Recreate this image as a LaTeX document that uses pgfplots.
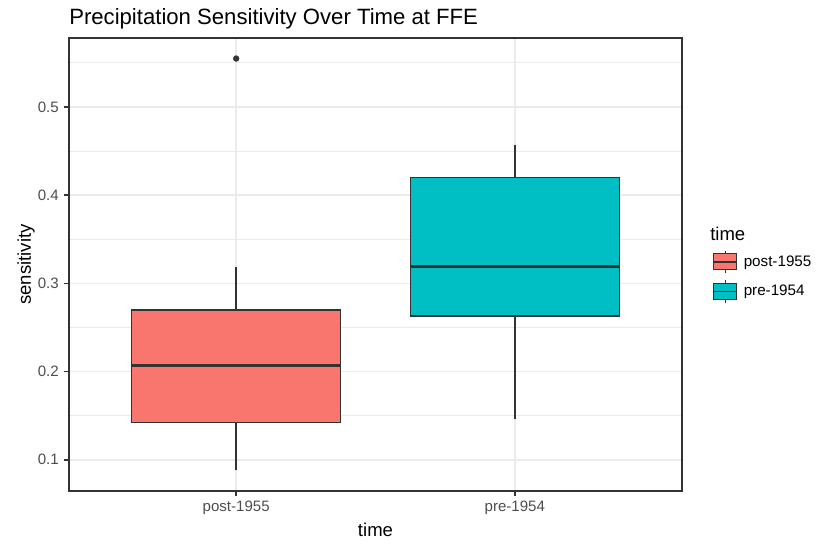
\documentclass[border=0pt]{standalone}
\usepackage{fontspec}
\setmainfont{Liberation Sans}
\usepackage{pgfplots}
\pgfplotsset{compat=1.18}
\definecolor{cA}{HTML}{F8766D}
\definecolor{cB}{HTML}{00BFC4}
\definecolor{gA}{HTML}{333333}
\definecolor{gB}{HTML}{4D4D4D}
\definecolor{gC}{HTML}{EBEBEB}
\begin{document}
\begin{tikzpicture}
\path[use as bounding box] (0,0) rectangle (612pt,407.25pt);
\begin{axis}[
  at={(51.75pt,39pt)}, anchor=south west,
  scale only axis, width=459.75pt, height=339.75pt,
  xmin=0.4, xmax=2.6, ymin=0.0646, ymax=0.5781,
  clip=false,
  xtick={1,2}, xticklabels={post-1955,pre-1954},
  ytick={0.1,0.2,0.3,0.4,0.5}, yticklabels={0.1,0.2,0.3,0.4,0.5},
  minor ytick={0.15,0.25,0.35,0.45,0.55},
  grid=both,
  major grid style={draw=gC, line width=1.2pt},
  minor grid style={draw=gC, line width=0.6pt},
  tick align=outside, tick pos=left,
  major tick length=4pt, minor tick length=0pt,
  tick style={draw=gA, line width=1.1pt},
  axis line style={draw=gA, line width=1.1pt},
  ticklabel style={font=\fontsize{11.3}{13}\selectfont, text=gB},
  xticklabel style={anchor=north, inner sep=0pt, yshift=-3pt},
  yticklabel style={anchor=east, inner sep=0pt, xshift=-3.5pt},
  xlabel={time}, ylabel={sensitivity},
  every axis x label/.style={at={(axis description cs:0.5,0)}, anchor=base, inner sep=0pt, yshift=-33.75pt, font=\fontsize{13.9}{16}\selectfont},
  every axis y label/.style={at={(axis description cs:-0.062,0.5)}, anchor=base, rotate=90, inner sep=0pt, font=\fontsize{13.9}{16}\selectfont},
  title={Precipitation Sensitivity Over Time at FFE},
  every axis title/.style={at={(axis description cs:0,1.0297)}, anchor=base west, inner sep=0pt, font=\fontsize{16.6}{19}\selectfont},
  legend style={at={(rel axis cs:1.0506,0.532)}, anchor=north west, draw=none, fill=none, inner sep=0pt, outer sep=0pt, row sep=-0.65pt, column sep=0pt, nodes={inner sep=0pt}, font=\fontsize{11.4}{13}\selectfont},
  legend cell align=left,
]
% post-1955: whiskers, box, median, outlier
\addplot[forget plot, gA, line width=1.1pt] coordinates {(1,0.0879) (1,0.1422)};
\addplot[forget plot, gA, line width=1.1pt] coordinates {(1,0.2698) (1,0.3189)};
\addplot[forget plot, fill=cA, draw=gA, line width=1.2pt, line join=miter] coordinates {(0.625,0.1422) (1.375,0.1422) (1.375,0.2698) (0.625,0.2698)} -- cycle;
\addplot[forget plot, gA, line width=2.2pt] coordinates {(0.625,0.2072) (1.375,0.2072)};
\addplot[forget plot, only marks, mark=*, mark size=2.2pt, mark options={solid, fill=gA, draw=gA, line width=0.3pt}] coordinates {(1,0.5548)};
% pre-1954
\addplot[forget plot, gA, line width=1.1pt] coordinates {(2,0.1460) (2,0.2630)};
\addplot[forget plot, gA, line width=1.1pt] coordinates {(2,0.4200) (2,0.4566)};
\addplot[forget plot, fill=cB, draw=gA, line width=1.2pt, line join=miter] coordinates {(1.625,0.2630) (2.375,0.2630) (2.375,0.4200) (1.625,0.4200)} -- cycle;
\addplot[forget plot, gA, line width=2.2pt] coordinates {(1.625,0.3196) (2.375,0.3196)};
\addlegendimage{legend image code/.code={
  \draw[gA, line width=0.8pt] (8.5pt,-8.5pt) -- (8.5pt,8.5pt);
  \draw[fill=cA, draw=gA, line width=0.9pt] (0pt,-6pt) rectangle (17pt,6pt);
  \draw[gA, line width=1.1pt] (0pt,0pt) -- (17pt,0pt);
  \path (22.3pt,-13.9pt);
}}
\addlegendentry{post-1955}
\addlegendimage{legend image code/.code={
  \draw[gA, line width=0.8pt] (8.5pt,-8.5pt) -- (8.5pt,8.5pt);
  \draw[fill=cB, draw=gA, line width=0.9pt] (0pt,-6pt) rectangle (17pt,6pt);
  \draw[gA, line width=1.1pt] (0pt,0pt) -- (17pt,0pt);
  \path (22.3pt,-13.9pt);
}}
\addlegendentry{pre-1954}
\node[anchor=base west, inner sep=0pt, font=\fontsize{13.9}{16}\selectfont] at (rel axis cs:1.0457,0.5525) {time};
\end{axis}
\end{tikzpicture}
\end{document}
